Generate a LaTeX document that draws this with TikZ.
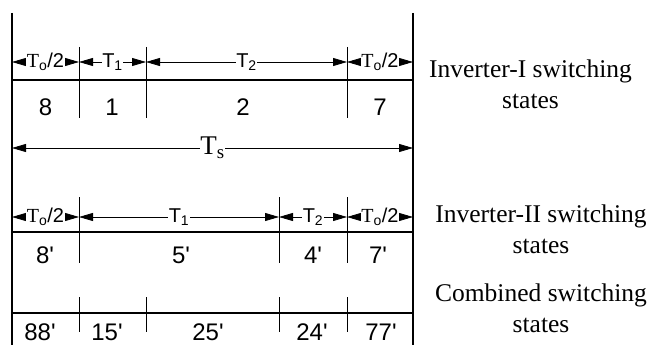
\documentclass[tikz,border=0pt]{standalone}
\usepackage{fontspec}
\setmainfont{Liberation Serif}
\setsansfont{Liberation Sans}
\usetikzlibrary{arrows.meta}

\begin{document}
\begin{tikzpicture}[
  x=1pt, y=-1pt,
  rail/.style={line width=1.1pt},
  tick/.style={line width=0.9pt},
  base/.style={line width=1.1pt},
  span/.style={{Triangle[length=14pt,width=8pt]}-{Triangle[length=14pt,width=8pt]}, line width=0.8pt},
  tlab/.style={fill=white, inner sep=0.5pt, font=\sffamily\fontsize{20}{20}\selectfont},
  num/.style={anchor=base, font=\sffamily\fontsize{24}{24}\selectfont},
  side/.style={align=center, font=\rmfamily\fontsize{25.5}{31}\selectfont}
]
\useasboundingbox (0,0) rectangle (652,345);

% outer rails
\coordinate (lt) at (12,13);
\coordinate (lb) at (12,345);
\coordinate (rt) at (413,13);
\coordinate (rb) at (413,345);
\draw[rail] (lt) -- (lb);
\draw[rail] (rt) -- (rb);

% Inverter-I
\draw[tick] (79,47) -- (79,118);
\draw[tick] (146,47) -- (146,118);
\draw[tick] (347,47) -- (347,118);
\coordinate (a0) at (12,62);
\coordinate (a1) at (79,62);
\coordinate (a2) at (146,62);
\coordinate (a3) at (347,62);
\coordinate (a4) at (413,62);
\draw[span] (a0) -- node[tlab] {{\rmfamily T}\textsubscript{o}/2} (a1);
\draw[span] (a1) -- node[tlab] {T\textsubscript{1}} (a2);
\draw[span] (a2) -- node[tlab] {T\textsubscript{2}} (a3);
\draw[span] (a3) -- node[tlab] {{\rmfamily T}\textsubscript{o}/2} (a4);
\draw[base] (12,80) -- (413,80);
\node[num] (s8) at (45.5,115) {8};
\node[num] (s1) at (112,115) {1};
\node[num] (s2) at (243,115) {2};
\node[num] (s7) at (380,115) {7};
\node[side] (inv1) at (530.5,84) {Inverter-I switching\\states};

% switching period
\coordinate (ts0) at (12,148);
\coordinate (ts1) at (413,148);
\draw[span] (ts0) -- node[tlab, font=\rmfamily\fontsize{27}{27}\selectfont] {T\textsubscript{s}} (ts1);

% Inverter-II
\draw[tick] (79,197) -- (79,263);
\draw[tick] (279,197) -- (279,263);
\draw[tick] (347,197) -- (347,263);
\coordinate (b0) at (12,217);
\coordinate (b1) at (79,217);
\coordinate (b2) at (279,217);
\coordinate (b3) at (347,217);
\coordinate (b4) at (413,217);
\draw[span] (b0) -- node[tlab] {{\rmfamily T}\textsubscript{o}/2} (b1);
\draw[span] (b1) -- node[tlab] {T\textsubscript{1}} (b2);
\draw[span] (b2) -- node[tlab] {T\textsubscript{2}} (b3);
\draw[span] (b3) -- node[tlab] {{\rmfamily T}\textsubscript{o}/2} (b4);
\draw[base] (12,232) -- (413,232);
\node[num] (p8) at (45,263) {8\textquotesingle};
\node[num] (p5) at (181,263) {5\textquotesingle};
\node[num] (p4) at (313,263) {4\textquotesingle};
\node[num] (p7) at (378,263) {7\textquotesingle};
\node[side] (inv2) at (541,229) {Inverter-II switching\\states};

% combined
\draw[tick] (79,297) -- (79,332);
\draw[tick] (146,297) -- (146,332);
\draw[tick] (279,297) -- (279,332);
\draw[tick] (347,297) -- (347,332);
\draw[base] (12,313) -- (413,313);
\node[num] (c88) at (40,340) {88\textquotesingle};
\node[num] (c15) at (107,340) {15\textquotesingle};
\node[num] (c25) at (208,340) {25\textquotesingle};
\node[num] (c24) at (312,340) {24\textquotesingle};
\node[num] (c77) at (381,340) {77\textquotesingle};
\node[side] (comb) at (541,308) {Combined switching\\states};
\end{tikzpicture}
\end{document}
